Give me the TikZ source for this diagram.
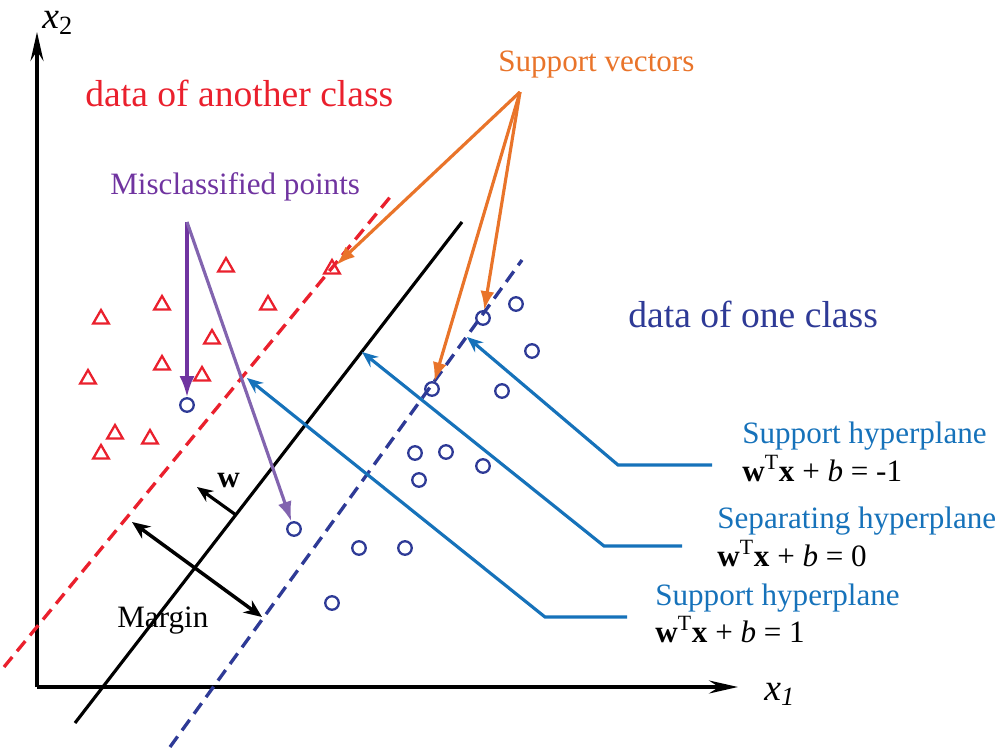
\documentclass[tikz,border=0pt]{standalone}
\usepackage{fontspec}
\setmainfont{Liberation Serif}
\usetikzlibrary{arrows.meta,shapes.geometric}
\definecolor{svmred}{RGB}{234,32,45}
\definecolor{svmnavy}{RGB}{46,58,150}
\definecolor{svmpurple}{RGB}{112,52,160}
\definecolor{svmlilac}{RGB}{130,100,175}
\definecolor{svmorange}{RGB}{233,116,42}
\definecolor{svmblue}{RGB}{22,114,186}
\begin{document}
\begin{tikzpicture}[x=0.02cm,y=-0.02cm,
  txt/.style={font=\fontsize{17.7}{20}\selectfont,inner sep=0,anchor=base west},
  bigtxt/.style={font=\fontsize{21.4}{24}\selectfont,inner sep=0,anchor=base west},
  tri/.style={draw=svmred,line width=1.3pt,regular polygon,regular polygon sides=3,minimum size=0.36cm,inner sep=0},
  dot/.style={draw=svmnavy,line width=1.3pt,circle,minimum size=0.27cm,inner sep=0},
  axis/.style={line width=2pt,-{Stealth[length=0.58cm,width=0.26cm,inset=0.2cm]}},
  conn/.style={svmblue,line width=1.8pt,-{Stealth[length=0.32cm,width=0.26cm]}},
  sv/.style={svmorange,line width=1.8pt,-{Latex[length=0.38cm,width=0.28cm]}}]
\useasboundingbox (0,0) rectangle (1001,753);
\coordinate (o) at (37,687);
\draw[axis] (o) -- (37,32);
\draw[axis] (o) -- (738,687);
\node[bigtxt] (x2) at (42,29) {\textit{x}\textsubscript{2}};
\node[bigtxt] (x1) at (764,700) {\textit{x\textsubscript{1}}};
\draw[svmred,line width=1.9pt,dash pattern=on 0.26cm off 0.15cm] (4,667) -- (391,196);
\draw[line width=1.8pt] (75,723) -- (462,222);
\draw[svmnavy,line width=1.9pt,dash pattern=on 0.26cm off 0.15cm] (170,747) -- (522,260);
\foreach \x/\y [count=\i] in {226/267,332/269,162/305,268/305,101/319,212/339,162/365,88/379,202/376,115/434,150/439,101/454}
  \node[tri] (t\i) at (\x,\y) {};
\foreach \x/\y [count=\i] in {187/405,294/529,483/318,432/389,516/304,532/351,502/391,415/453,446/452,419/480,483/466,359/548,405/548,332/603}
  \node[dot] (c\i) at (\x,\y) {};
\node[bigtxt,svmred] (another) at (85,107) {data of another class};
\node[bigtxt,svmnavy] (one) at (628,328) {data of one class};
\node[txt,svmpurple] (mis) at (110,195) {Misclassified points};
\coordinate (m) at (187,222);
\draw[svmpurple,line width=1.9pt,-{Latex[length=0.42cm,width=0.3cm]}] (m) -- (c1);
\draw[svmlilac,line width=1.8pt,-{Latex[length=0.4cm,width=0.28cm]}] (m) -- (c2);
\node[txt,svmorange] (svl) at (498,72) {Support vectors};
\coordinate (s) at (520,92);
\draw[sv] (s) -- (t2);
\draw[sv] (s) -- (c3);
\draw[sv] (s) -- (c4);
\node[txt] (hp1) at (742,443) {\textcolor{svmblue}{Support hyperplane}};
\node[txt] (eq1) at (742,481) {\textbf{w}\textsuperscript{T}\textbf{x} + \textit{b} = -1};
\node[txt] (hp2) at (717,528) {\textcolor{svmblue}{Separating hyperplane}};
\node[txt] (eq2) at (717,566) {\textbf{w}\textsuperscript{T}\textbf{x} + \textit{b} = 0};
\node[txt] (hp3) at (655,605) {\textcolor{svmblue}{Support hyperplane}};
\node[txt] (eq3) at (655,642) {\textbf{w}\textsuperscript{T}\textbf{x} + \textit{b} = 1};
\coordinate (e1) at (712,465);
\coordinate (k1) at (618,465);
\coordinate (p1) at (467,337);
\coordinate (e2) at (682,546);
\coordinate (k2) at (604,546);
\coordinate (p2) at (362,352);
\coordinate (e3) at (627,617);
\coordinate (k3) at (545,617);
\coordinate (p3) at (247,378);
\draw[conn] (e1) -- (k1) -- (p1);
\draw[conn] (e2) -- (k2) -- (p2);
\draw[conn] (e3) -- (k3) -- (p3);
\coordinate (wb) at (236,515);
\coordinate (wt) at (197,487);
\draw[line width=1.8pt,-{Stealth[length=0.32cm,width=0.26cm]}] (wb) -- (wt);
\node[txt] (w) at (217,487) {\textbf{w}};
\coordinate (ma) at (132,522);
\coordinate (mb) at (262,617);
\draw[line width=2pt,{Stealth[length=0.36cm,width=0.3cm]}-{Stealth[length=0.36cm,width=0.3cm]}] (ma) -- (mb);
\node[txt] (margin) at (117,627) {Margin};
\end{tikzpicture}
\end{document}
